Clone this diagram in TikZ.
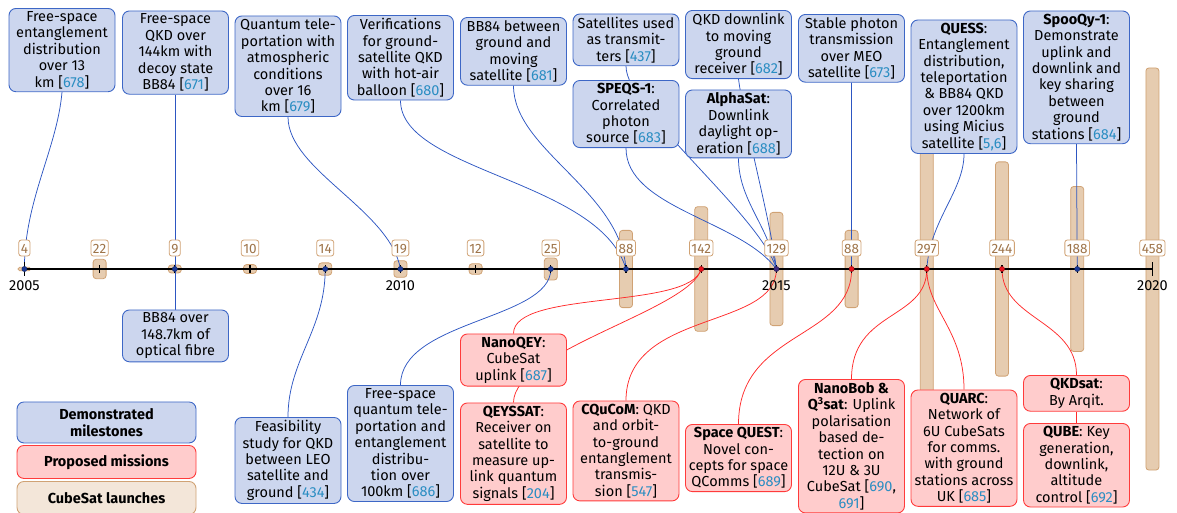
\documentclass[tikz,border=0pt]{standalone}
\usepackage{fontspec}
\setmainfont{Fira Sans}
\definecolor{demoF}{HTML}{CCD6EE}
\definecolor{demoB}{HTML}{3D67C6}
\definecolor{propF}{HTML}{FFCCCC}
\definecolor{propB}{HTML}{FF3B3B}
\definecolor{tanF}{HTML}{E6CCB0}
\definecolor{tanB}{HTML}{D0A274}
\definecolor{tanL}{HTML}{F3E6D9}
\definecolor{tanT}{HTML}{9E7449}
\definecolor{citeC}{HTML}{2A8DC2}
\definecolor{lineB}{HTML}{2D56C2}
\definecolor{lineR}{HTML}{FF2A2A}
\definecolor{dotB}{HTML}{1C3A96}
\definecolor{dotR}{HTML}{E8141E}
\definecolor{dotP}{HTML}{3E2A7C}
\newcommand\boxfont{\fontsize{14.5}{16.4}\selectfont}
\newcommand\cntfont{\fontsize{13.5}{15}\selectfont}
\newcommand\rf[1]{[\textcolor{citeC}{#1}]}
\pgfdeclarelayer{bg}
\pgfdeclarelayer{mid}
\pgfsetlayers{bg,mid,main}
\begin{document}
\begin{tikzpicture}[x=1pt,y=-1pt,
 demo/.style={draw=demoB, fill=demoF, line width=0.9pt, rounded corners=7pt, align=center, font=\boxfont, inner xsep=2pt, inner ysep=3pt, minimum width=106pt, anchor=north},
 prop/.style={demo, draw=propB, fill=propF},
 bl/.style={lineB, line width=0.75pt},
 rd/.style={lineR, line width=0.75pt},
 cnt/.style={draw=tanB, fill=white, line width=0.8pt, rounded corners=2.5pt, text=tanT, font=\cntfont, inner xsep=2pt, inner ysep=3pt, text height=10pt, text depth=0pt},
 cbar/.style={fill=tanF, draw=tanB, line width=0.8pt},
 yrlab/.style={font=\boxfont, inner sep=0pt},
 yeartick/.style={line width=1.2pt},
]
\useasboundingbox (0,0) rectangle (1177,512);
% year positions
\foreach \yr [count=\i from 0] in {2005,...,2020}{
  \coordinate (d\yr) at ({24.4+75.2*\i},269);
}
% CubeSat launch bars
\begin{pgfonlayer}{bg}
\foreach \n [count=\i from 0] in {4,22,9,10,14,19,12,25,88,142,129,88,297,244,188,458}{
  \pgfmathsetmacro\xx{24.4+75.2*\i}
  \pgfmathsetmacro\hh{0.439*\n}
  \pgfmathsetmacro\rr{min(3,\hh)}
  \draw[cbar, rounded corners=\rr pt] (\xx-6.5,269-\hh) rectangle (\xx+6.5,269+\hh);
}
\end{pgfonlayer}
% axis
\draw[line width=2pt] (d2005) -- (d2020);
\foreach \yr in {2006,...,2019}{ \draw[yeartick] (d\yr) +(0,-4) -- +(0,4); }
\draw[yeartick] (d2005) +(0,-7) -- +(0,7);
\draw[yeartick] (d2020) +(0,-7) -- +(0,7);
\foreach \yr in {2005,2007,2009,2010,2012,2013,2019}{ \filldraw[fill=dotB, draw=dotB!70!black, line width=0.4pt] (d\yr) circle (2.6pt); }
\foreach \yr in {2014,2016,2017,2018}{ \filldraw[fill=dotR, draw=dotR!60!black, line width=0.4pt] (d\yr) circle (2.6pt); }
\filldraw[fill=dotP, draw=dotP!70!black, line width=0.4pt] (d2015) circle (2.6pt);
% counts
\foreach \yr/\n [count=\i from 0] in {2005/4,2006/22,2007/9,2008/10,2009/14,2010/19,2011/12,2012/25,2013/88,2014/142,2015/129,2016/88,2017/297,2018/244,2019/188,2020/458}{
  \node[cnt] (c\yr) at ({24.4+75.2*\i},248) {\n};
}
\node[yrlab] (y2005) at (24.4,285.5) {2005};
\node[yrlab] (y2010) at (400.4,285.5) {2010};
\node[yrlab] (y2015) at (776.4,285.5) {2015};
\node[yrlab] (y2020) at (1152.4,285.5) {2020};
% top boxes
\node[demo] (b1) at (62,8) {Free-space\\entanglement\\distribution\\over 13\\km \rf{678}};
\node[demo] (b2) at (175.5,10.5) {Free-space\\QKD over\\144km with\\decoy state\\BB84 \rf{671}};
\node[demo] (b3) at (288,15.5) {Quantum tele-\\portation with\\atmospheric\\conditions\\over 16\\km \rf{679}};
\node[demo] (b4) at (400.5,15) {Verifications\\for ground-\\satellite QKD\\with hot-air\\balloon \rf{680}};
\node[demo] (b5) at (513.5,17) {BB84 between\\ground and\\moving\\satellite \rf{681}};
\node[demo] (b6) at (626,13.5) {Satellites used\\as transmit-\\ters \rf{437}};
\node[demo] (b7) at (626,80) {\textbf{SPEQS-1}:\\Correlated\\photon\\source \rf{683}};
\node[demo] (b8) at (738.5,10) {QKD downlink\\to moving\\ground\\receiver \rf{682}};
\node[demo] (b9) at (738.5,89.5) {\textbf{AlphaSat}:\\Downlink\\daylight op-\\eration \rf{688}};
\node[demo] (b10) at (851.5,14) {Stable photon\\transmission\\over MEO\\satellite \rf{673}};
\node[demo] (b11) at (964,19.5) {\textbf{QUESS}:\\Entanglement\\distribution,\\teleportation\\\& BB84 QKD\\over 1200km\\using Micius\\satellite \rf{5,6}};
\node[demo] (b12) at (1076.5,10.5) {\textbf{SpooQy-1}:\\Demonstrate\\uplink and\\downlink and\\key sharing\\between\\ground\\stations \rf{684}};
% bottom boxes
\node[demo] (l1) at (175.5,309.5) {BB84 over\\148.7km of\\optical fibre};
\node[demo] (l2) at (288,417) {Feasibility\\study for QKD\\between LEO\\satellite and\\ground \rf{434}};
\node[demo] (l3) at (400.5,385) {Free-space\\quantum tele-\\portation and\\entanglement\\distribu-\\tion over\\100km \rf{686}};
\node[prop] (l4) at (513.5,333.5) {\textbf{NanoQEY}:\\CubeSat\\uplink \rf{687}};
\node[prop] (l5) at (513.5,402.5) {\textbf{QEYSSAT}:\\Receiver on\\satellite to\\measure up-\\link quantum\\signals \rf{204}};
\node[prop] (l6) at (626,400.5) {\textbf{CQuCoM}: QKD\\and orbit-\\to-ground\\entanglement\\transmis-\\sion \rf{547}};
\node[prop] (l7) at (738.5,424) {\textbf{Space QUEST}:\\Novel con-\\cepts for space\\QComms \rf{689}};
\node[prop] (l8) at (851.5,379) {\textbf{NanoBob \&}\\\textbf{Q\textsuperscript{3}sat}: Uplink\\polarisation\\based de-\\tection on\\12U \& 3U\\CubeSat [\textcolor{citeC}{690},\\\textcolor{citeC}{691}]};
\node[prop] (l9) at (964,389.5) {\textbf{QUARC}:\\Network of\\6U CubeSats\\for comms.\\with ground\\stations across\\UK \rf{685}};
\node[prop] (l10) at (1076.5,375) {\textbf{QKDsat}:\\By Arqit.};
\node[prop] (l11) at (1076.5,423) {\textbf{QUBE}: Key\\generation,\\downlink,\\altitude\\control \rf{692}};
% legend
\node[demo, minimum width=179pt, minimum height=41pt] (lg1) at (106.5,401.5) {\textbf{Demonstrated}\\\textbf{milestones}};
\node[prop, minimum width=179pt, minimum height=33pt] (lg2) at (106.5,445) {\textbf{Proposed missions}};
\node[demo, draw=tanB, fill=tanL, minimum width=179pt, minimum height=33pt] (lg3) at (106.5,481) {\textbf{CubeSat launches}};
% connectors
\begin{pgfonlayer}{mid}
\draw[bl] (b1.south) .. controls +(-5,57) and +(0,-69) .. (d2005);
\draw[bl] (b2.south) -- (l1.north);
\draw[bl] (b3.south) .. controls +(0,53) and +(-10,-59) .. (d2010);
\draw[bl] (b4.south) .. controls +(0,71) and +(-26,-89) .. (d2013);
\draw[bl] (b5.south) .. controls +(0,64) and +(-6,-79) .. (d2013);
\draw[bl] (b6.south) .. controls +(0,44) and +(-16,-54) .. (d2015);
\draw[bl] (b7.south) .. controls +(0,60) and +(-36,-49) .. (d2015);
\draw[bl] (b8.south) .. controls +(7,51) and +(-6,-49) .. (d2015);
\draw[bl] (b9.south) .. controls +(0,42) and +(-8,-44) .. (d2015);
\draw[bl] (b10.south) -- (d2016);
\draw[bl] (b11.south) .. controls +(0,37) and +(3,-49) .. (d2017);
\draw[bl] (b12.south) -- (d2019);
\draw[bl] (d2009) .. controls +(0,61) and +(0,-57) .. (l2.north);
\draw[bl] (d2012) .. controls +(0,51) and +(0,-65) .. (l3.north);
\draw[rd] (d2014) .. controls +(-11,41) and +(0,-44) .. (l4.north);
\draw[rd] (l5.north) .. controls +(0,-52) and +(-11,41) .. (d2014);
\draw[rd] (d2015) .. controls +(0,61) and +(0,-91) .. (l6.north);
\draw[rd] (d2016) .. controls +(0,71) and +(0,-94) .. (l7.north);
\draw[rd] (d2017) .. controls +(0,51) and +(0,-69) .. (l8.north);
\draw[rd] (d2017) .. controls +(0,41) and +(0,-60) .. (l9.north);
\draw[rd] (d2018) .. controls +(0,51) and +(0,-55) .. (l10.north);
\draw[rd] (l11.north) -- (l10.south);
\end{pgfonlayer}
\end{tikzpicture}
\end{document}
